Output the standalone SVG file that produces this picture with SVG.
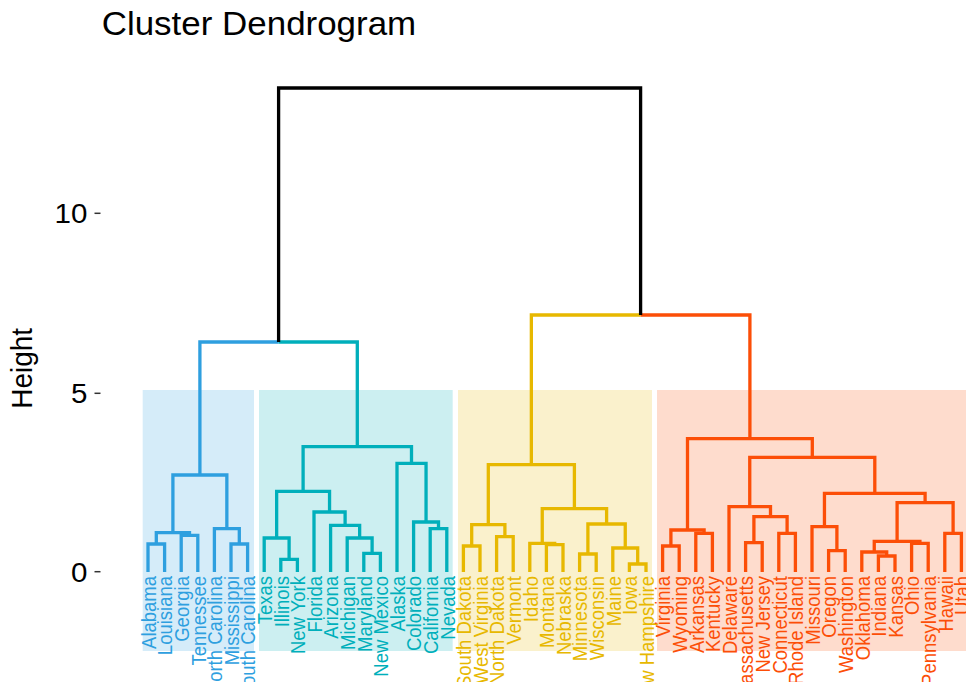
<svg xmlns="http://www.w3.org/2000/svg" width="966" height="682" viewBox="0 0 966 682">
<style>
text{font-family:"Liberation Sans",Arial,Helvetica,sans-serif}
.br{fill:none;stroke-width:3.3;stroke-linejoin:miter;stroke-linecap:butt}
.cb{stroke:#2E9FDF}.ct{stroke:#00AFBB}.cy{stroke:#E7B800}.co{stroke:#FC4E07}.ck{stroke:#000}
.lb{font-size:18.5px;text-anchor:end}
.fb{fill:#2E9FDF}.ft{fill:#00AFBB}.fy{fill:#E7B800}.fo{fill:#FC4E07}
.tick{font-size:27.5px;text-anchor:end;fill:#000}
.tk{stroke:#333;stroke-width:1.5}
</style>
<rect width="966" height="682" fill="#fff"/>
<g id="clusters">
<rect x="142.7" y="390" width="111.3" height="261" fill="#2E9FDF" fill-opacity="0.2"/>
<rect x="259" y="390" width="193.7" height="261" fill="#00AFBB" fill-opacity="0.2"/>
<rect x="458" y="390" width="194" height="261" fill="#E7B800" fill-opacity="0.2"/>
<rect x="657" y="390" width="310" height="261" fill="#FC4E07" fill-opacity="0.2"/>
</g>
<g id="title" transform="translate(101.7,35) scale(1.075,1)"><text x="0" y="0" font-size="32.5">Cluster Dendrogram</text></g>
<g id="axis">
<g transform="translate(87.5,223.3) scale(1.075,1)"><text class="tick">10</text></g>
<g transform="translate(87.5,403.3) scale(1.075,1)"><text class="tick">5</text></g>
<g transform="translate(87.5,581.7) scale(1.075,1)"><text class="tick">0</text></g>
<line class="tk" x1="94.5" y1="213.3" x2="100.5" y2="213.3"/>
<line class="tk" x1="94.5" y1="393.3" x2="100.5" y2="393.3"/>
<line class="tk" x1="94.5" y1="571.7" x2="100.5" y2="571.7"/>
<g transform="translate(31.7,368.3) scale(1.075,1) rotate(-90)"><text x="0" y="0" font-size="28" text-anchor="middle">Height</text></g>
</g>
<g id="connectors">
<path class="br cb" d="M148 572V544H164.6V572"/>
<path class="br cb" d="M181.2 572V535.3H197.8V572"/>
<path class="br cb" d="M156.3 544V532.7H189.5V535.3"/>
<path class="br cb" d="M231 572V544H247.6V572"/>
<path class="br cb" d="M214.4 572V528.7H239.3V544"/>
<path class="br cb" d="M172.9 532.7V475H226.85V528.7"/>
<path class="br ct" d="M280.8 572V559.3H297.4V572"/>
<path class="br ct" d="M264.2 572V538H289.1V559.3"/>
<path class="br ct" d="M363.8 572V553.3H380.4V572"/>
<path class="br ct" d="M347.2 572V538H372.1V553.3"/>
<path class="br ct" d="M330.6 572V525.3H359.65V538"/>
<path class="br ct" d="M314 572V512H345.1V525.3"/>
<path class="br ct" d="M276.65 538V491.3H329.55V512"/>
<path class="br ct" d="M430.2 572V528.7H446.8V572"/>
<path class="br ct" d="M413.6 572V522H438.5V528.7"/>
<path class="br ct" d="M397 572V463.3H426.05V522"/>
<path class="br ct" d="M303.1 491.3V446.7H411.5V463.3"/>
<path class="br cy" d="M463.4 572V546H480V572"/>
<path class="br cy" d="M496.6 572V536.7H513.2V572"/>
<path class="br cy" d="M471.7 546V524.7H504.9V536.7"/>
<path class="br cy" d="M546.4 572V544.7H563V572"/>
<path class="br cy" d="M529.8 572V543.3H554.7V544.7"/>
<path class="br cy" d="M579.6 572V554H596.2V572"/>
<path class="br cy" d="M629.4 572V564H646V572"/>
<path class="br cy" d="M612.8 572V548H637.7V564"/>
<path class="br cy" d="M587.9 554V524H625.25V548"/>
<path class="br cy" d="M542.25 543.3V508.7H606.6V524"/>
<path class="br cy" d="M488.3 524.7V464.7H574.4V508.7"/>
<path class="br co" d="M662.6 572V546H679.2V572"/>
<path class="br co" d="M695.8 572V533.3H712.4V572"/>
<path class="br co" d="M670.9 546V530H704.1V533.3"/>
<path class="br co" d="M745.6 572V542.7H762.2V572"/>
<path class="br co" d="M778.8 572V533.3H795.4V572"/>
<path class="br co" d="M753.9 542.7V516.7H787.1V533.3"/>
<path class="br co" d="M729 572V506.7H770.5V516.7"/>
<path class="br co" d="M828.6 572V550.7H845.2V572"/>
<path class="br co" d="M812 572V526.7H836.9V550.7"/>
<path class="br co" d="M878.4 572V556H895V572"/>
<path class="br co" d="M861.8 572V552H886.7V556"/>
<path class="br co" d="M911.6 572V543.3H928.2V572"/>
<path class="br co" d="M874.25 552V541.3H919.9V543.3"/>
<path class="br co" d="M944.8 572V533.3H961.4V572"/>
<path class="br co" d="M897.1 541.3V502.7H953.1V533.3"/>
<path class="br co" d="M824.45 526.7V493.3H925.1V502.7"/>
<path class="br co" d="M749.75 506.7V457.3H874.8V493.3"/>
<path class="br co" d="M687.5 530V438.7H812.3V457.3"/>
<path class="br cb" d="M199.9 475V342H278.6"/>
<path class="br ct" d="M278.6 342H357.3V446.7"/>
<path class="br cy" d="M531.35 464.7V315H640.6"/>
<path class="br co" d="M640.6 315H749.9V438.7"/>
<path class="br ck" d="M278.6 342V88H640.6V315"/>
</g>
<g id="leaves">
<g id="n-alabama" transform="translate(155.8,576) scale(1.075,1) rotate(-90)"><text class="lb fb">Alabama</text></g>
<g id="n-louisiana" transform="translate(172.4,576) scale(1.075,1) rotate(-90)"><text class="lb fb">Louisiana</text></g>
<g id="n-georgia" transform="translate(189,576) scale(1.075,1) rotate(-90)"><text class="lb fb">Georgia</text></g>
<g id="n-tennessee" transform="translate(205.6,576) scale(1.075,1) rotate(-90)"><text class="lb fb">Tennessee</text></g>
<g id="n-north-carolina" transform="translate(222.2,576) scale(1.075,1) rotate(-90)"><text class="lb fb">North Carolina</text></g>
<g id="n-mississippi" transform="translate(238.8,576) scale(1.075,1) rotate(-90)"><text class="lb fb">Mississippi</text></g>
<g id="n-south-carolina" transform="translate(255.4,576) scale(1.075,1) rotate(-90)"><text class="lb fb">South Carolina</text></g>
<g id="n-texas" transform="translate(272,576) scale(1.075,1) rotate(-90)"><text class="lb ft">Texas</text></g>
<g id="n-illinois" transform="translate(288.6,576) scale(1.075,1) rotate(-90)"><text class="lb ft">Illinois</text></g>
<g id="n-new-york" transform="translate(305.2,576) scale(1.075,1) rotate(-90)"><text class="lb ft">New York</text></g>
<g id="n-florida" transform="translate(321.8,576) scale(1.075,1) rotate(-90)"><text class="lb ft">Florida</text></g>
<g id="n-arizona" transform="translate(338.4,576) scale(1.075,1) rotate(-90)"><text class="lb ft">Arizona</text></g>
<g id="n-michigan" transform="translate(355,576) scale(1.075,1) rotate(-90)"><text class="lb ft">Michigan</text></g>
<g id="n-maryland" transform="translate(371.6,576) scale(1.075,1) rotate(-90)"><text class="lb ft">Maryland</text></g>
<g id="n-new-mexico" transform="translate(388.2,576) scale(1.075,1) rotate(-90)"><text class="lb ft">New Mexico</text></g>
<g id="n-alaska" transform="translate(404.8,576) scale(1.075,1) rotate(-90)"><text class="lb ft">Alaska</text></g>
<g id="n-colorado" transform="translate(421.4,576) scale(1.075,1) rotate(-90)"><text class="lb ft">Colorado</text></g>
<g id="n-california" transform="translate(438,576) scale(1.075,1) rotate(-90)"><text class="lb ft">California</text></g>
<g id="n-nevada" transform="translate(454.6,576) scale(1.075,1) rotate(-90)"><text class="lb ft">Nevada</text></g>
<g id="n-south-dakota" transform="translate(471.2,576) scale(1.075,1) rotate(-90)"><text class="lb fy">South Dakota</text></g>
<g id="n-west-virginia" transform="translate(487.8,576) scale(1.075,1) rotate(-90)"><text class="lb fy">West Virginia</text></g>
<g id="n-north-dakota" transform="translate(504.4,576) scale(1.075,1) rotate(-90)"><text class="lb fy">North Dakota</text></g>
<g id="n-vermont" transform="translate(521,576) scale(1.075,1) rotate(-90)"><text class="lb fy">Vermont</text></g>
<g id="n-idaho" transform="translate(537.6,576) scale(1.075,1) rotate(-90)"><text class="lb fy">Idaho</text></g>
<g id="n-montana" transform="translate(554.2,576) scale(1.075,1) rotate(-90)"><text class="lb fy">Montana</text></g>
<g id="n-nebraska" transform="translate(570.8,576) scale(1.075,1) rotate(-90)"><text class="lb fy">Nebraska</text></g>
<g id="n-minnesota" transform="translate(587.4,576) scale(1.075,1) rotate(-90)"><text class="lb fy">Minnesota</text></g>
<g id="n-wisconsin" transform="translate(604,576) scale(1.075,1) rotate(-90)"><text class="lb fy">Wisconsin</text></g>
<g id="n-maine" transform="translate(620.6,576) scale(1.075,1) rotate(-90)"><text class="lb fy">Maine</text></g>
<g id="n-iowa" transform="translate(637.2,576) scale(1.075,1) rotate(-90)"><text class="lb fy">Iowa</text></g>
<g id="n-new-hampshire" transform="translate(653.8,576) scale(1.075,1) rotate(-90)"><text class="lb fy">New Hampshire</text></g>
<g id="n-virginia" transform="translate(670.4,576) scale(1.075,1) rotate(-90)"><text class="lb fo">Virginia</text></g>
<g id="n-wyoming" transform="translate(687,576) scale(1.075,1) rotate(-90)"><text class="lb fo">Wyoming</text></g>
<g id="n-arkansas" transform="translate(703.6,576) scale(1.075,1) rotate(-90)"><text class="lb fo">Arkansas</text></g>
<g id="n-kentucky" transform="translate(720.2,576) scale(1.075,1) rotate(-90)"><text class="lb fo">Kentucky</text></g>
<g id="n-delaware" transform="translate(736.8,576) scale(1.075,1) rotate(-90)"><text class="lb fo">Delaware</text></g>
<g id="n-massachusetts" transform="translate(753.4,576) scale(1.075,1) rotate(-90)"><text class="lb fo">Massachusetts</text></g>
<g id="n-new-jersey" transform="translate(770,576) scale(1.075,1) rotate(-90)"><text class="lb fo">New Jersey</text></g>
<g id="n-connecticut" transform="translate(786.6,576) scale(1.075,1) rotate(-90)"><text class="lb fo">Connecticut</text></g>
<g id="n-rhode-island" transform="translate(803.2,576) scale(1.075,1) rotate(-90)"><text class="lb fo">Rhode Island</text></g>
<g id="n-missouri" transform="translate(819.8,576) scale(1.075,1) rotate(-90)"><text class="lb fo">Missouri</text></g>
<g id="n-oregon" transform="translate(836.4,576) scale(1.075,1) rotate(-90)"><text class="lb fo">Oregon</text></g>
<g id="n-washington" transform="translate(853,576) scale(1.075,1) rotate(-90)"><text class="lb fo">Washington</text></g>
<g id="n-oklahoma" transform="translate(869.6,576) scale(1.075,1) rotate(-90)"><text class="lb fo">Oklahoma</text></g>
<g id="n-indiana" transform="translate(886.2,576) scale(1.075,1) rotate(-90)"><text class="lb fo">Indiana</text></g>
<g id="n-kansas" transform="translate(902.8,576) scale(1.075,1) rotate(-90)"><text class="lb fo">Kansas</text></g>
<g id="n-ohio" transform="translate(919.4,576) scale(1.075,1) rotate(-90)"><text class="lb fo">Ohio</text></g>
<g id="n-pennsylvania" transform="translate(936,576) scale(1.075,1) rotate(-90)"><text class="lb fo">Pennsylvania</text></g>
<g id="n-hawaii" transform="translate(952.6,576) scale(1.075,1) rotate(-90)"><text class="lb fo">Hawaii</text></g>
<g id="n-utah" transform="translate(969.2,576) scale(1.075,1) rotate(-90)"><text class="lb fo">Utah</text></g>
</g>
</svg>
